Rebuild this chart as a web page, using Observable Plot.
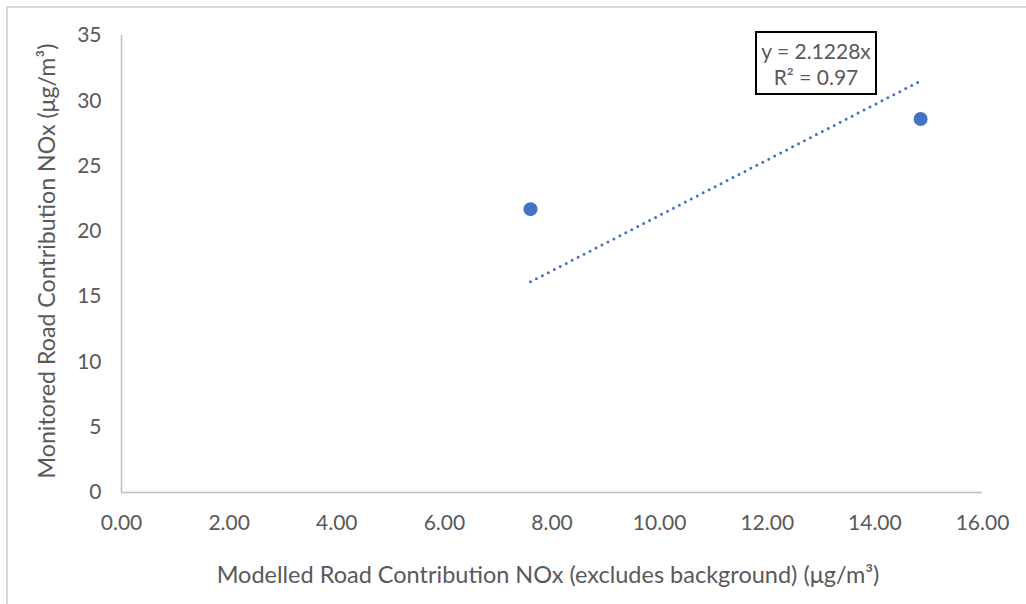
<!DOCTYPE html>
<html>
<head>
<meta charset="utf-8">
<script src="https://cdn.jsdelivr.net/npm/d3@7"></script>
<script src="https://cdn.jsdelivr.net/npm/@observablehq/plot@0.6"></script>
<style>
  body { margin: 0; background: #fff; }
  #wrap { position: relative; width: 1026px; height: 604px; overflow: hidden; font-family: Lato, "Open Sans", sans-serif; }
  #frame { position: absolute; left: 6px; top: 6px; right: -10px; bottom: -10px; border-top: 2px solid #d9d9d9; border-left: 2px solid #d9d9d9; pointer-events: none; }
  #eq { position: absolute; left: 755px; top: 31px; width: 118px; border: 2px solid #000; background: #fff;
        color: #595959; font-size: 21px; line-height: 26px; text-align: center; padding-top: 5px; height: 55px; }
</style>
</head>
<body>
<div id="wrap">
  <div id="chart"></div>
  <div id="frame"></div>
  <div id="eq"></div>
</div>
<script>
const modelled = [7.60, 14.85];
const monitored = [21.7, 28.6];
const slope = 2.1228;
const r2 = 0.97;
const xTicks = [0, 2, 4, 6, 8, 10, 12, 14, 16];
const yTicks = [0, 5, 10, 15, 20, 25, 30, 35];
const xTitle = "Modelled Road Contribution NOx (excludes background) (μg/m³)";
const yTitle = "Monitored Road Contribution NOx (μg/m³)";

const points = modelled.map((x, i) => ({x, y: monitored[i]}));
const xmin = d3.min(modelled), xmax = d3.max(modelled);
const trend = [{x: xmin, y: slope * xmin}, {x: xmax, y: slope * xmax}];

const textColor = "#595959";
const axisColor = "#bfbfbf";
const blue = "#4472C4";

const plot = Plot.plot({
  width: 1026,
  height: 604,
  marginLeft: 121,
  marginRight: 44,
  marginTop: 35,
  marginBottom: 112,
  style: {fontFamily: "Lato, 'Open Sans', sans-serif", fontSize: "21px", color: textColor, background: "transparent"},
  x: {domain: [0, 16]},
  y: {domain: [0, 35]},
  marks: [
    Plot.axisX({ticks: xTicks, tickSize: 0, tickPadding: 23, tickFormat: d => d.toFixed(2), label: null, fill: textColor}),
    Plot.axisY({ticks: yTicks, tickSize: 0, tickPadding: 20, label: null, fill: textColor}),
    Plot.ruleY([0], {stroke: axisColor, strokeWidth: 1.5}),
    Plot.ruleX([0], {stroke: axisColor, strokeWidth: 1.5}),
    Plot.line(trend, {x: "x", y: "y", stroke: blue, strokeWidth: 3, strokeDasharray: "0 6.7", strokeLinecap: "round"}),
    Plot.dot(points, {x: "x", y: "y", r: 7, fill: blue, stroke: "none"}),
    Plot.text([xTitle], {frameAnchor: "bottom", dx: -4, dy: 83, text: d => d, fill: textColor, fontSize: 23.5, textAnchor: "middle", lineAnchor: "middle"}),
    Plot.text([yTitle], {frameAnchor: "left", dx: -74, dy: -3, text: d => d, fill: textColor, fontSize: 23.2, rotate: -90, textAnchor: "middle", lineAnchor: "middle"})
  ]
});
document.getElementById("chart").appendChild(plot);
document.getElementById("eq").innerHTML = `y = ${slope}x<br>R² = ${r2}`;
</script>
</body>
</html>
